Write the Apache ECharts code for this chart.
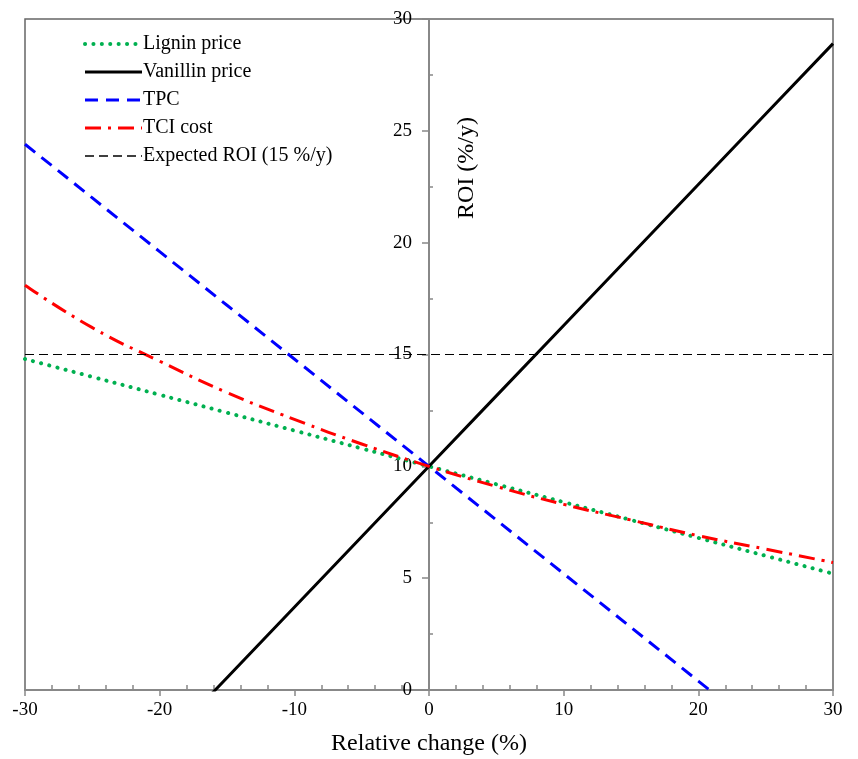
<!DOCTYPE html>
<html><head><meta charset="utf-8">
<script src="https://cdn.jsdelivr.net/npm/echarts@6/dist/echarts.min.js"></script>
<style>html,body{margin:0;padding:0;background:#fff}#c{width:858px;height:759px}</style>
</head><body><div id="c"></div>
<script>
const xChange = [-30, -25, -20, -15, -10, -5, 0, 5, 10, 15, 20, 25, 30];
const lignin   = [14.8, 14.0, 13.2, 12.4, 11.6, 10.8, 10, 9.2, 8.4, 7.6, 6.8, 6.0, 5.2];
const vanillin = [-8.9, -5.75, -2.6, 0.55, 3.7, 6.85, 10, 13.15, 16.3, 19.45, 22.6, 25.75, 28.9];
const tpc      = [24.4, 22.0, 19.6, 17.2, 14.8, 12.4, 10, 7.6, 5.2, 2.8, 0.4, -2.0, -4.4];
const tciCost  = [18.1, 16.2, 14.7, 13.3, 12.1, 11.0, 10, 9.1, 8.3, 7.6, 6.9, 6.3, 5.7];
const expectedROI = [15, 15];
const expectedX = [-30, 30];
const seriesNames = ['Lignin price', 'Vanillin price', 'TPC', 'TCI cost', 'Expected ROI (15 %/y)'];

const pair = (xs, ys) => xs.map((x, i) => [x, ys[i]]);
const font = 'Liberation Serif';
const legendWidths = [4, 3, 3, 3, 1.6];
const chart = echarts.init(document.getElementById('c'));
chart.setOption({
  animation: false,
  textStyle: { fontFamily: font },
  grid: { left: 25, right: 25, top: 19, bottom: 69, show: true, borderColor: '#666', borderWidth: 1.5,
          containLabel: false, outerBoundsMode: 'none' },
  legend: {
    left: 78, top: 29, orient: 'vertical', itemGap: 8, itemWidth: 57, itemHeight: 20,
    itemStyle: { opacity: 0 },
    textStyle: { fontFamily: font, fontSize: 20, color: '#000', padding: [0, 0, 0, -4] },
    data: seriesNames.map((n, i) => ({ name: n, lineStyle: { width: legendWidths[i] } }))
  },
  xAxis: {
    type: 'value', min: -30, max: 30, interval: 10,
    name: 'Relative change (%)', nameLocation: 'middle', nameGap: 42,
    nameTextStyle: { fontFamily: font, fontSize: 24, color: '#000' },
    axisLine: { onZero: false, lineStyle: { color: '#888', width: 2 } },
    axisTick: { show: true, length: 6, lineStyle: { color: '#888', width: 1.5 } },
    minorTick: { show: true, splitNumber: 5, length: -5, lineStyle: { color: '#888', width: 1.5 } },
    axisLabel: { fontFamily: font, fontSize: 19, color: '#000', margin: 11 },
    splitLine: { show: false }
  },
  yAxis: {
    type: 'value', min: 0, max: 30, interval: 5, position: 'left', offset: -404,
    axisLine: { onZero: false, lineStyle: { color: '#888', width: 2 } },
    axisTick: { show: true, length: 7, lineStyle: { color: '#888', width: 1.5 } },
    minorTick: { show: true, splitNumber: 2, length: -4, lineStyle: { color: '#888', width: 1.5 } },
    axisLabel: { fontFamily: font, fontSize: 19, color: '#000', margin: 17 },
    splitLine: { show: false }
  },
  graphic: [{
    type: 'text', x: 467, y: 168, rotation: Math.PI / 2,
    style: { text: 'ROI (%/y)', font: '24px "Liberation Serif"', fill: '#000', align: 'center', verticalAlign: 'middle' }
  }],
  series: [
    { name: seriesNames[0], type: 'line', data: pair(xChange, lignin), symbol: 'none', smooth: true,
      lineStyle: { color: '#00B050', width: 4, type: [0.1, 8.3], cap: 'round' }, itemStyle: { color: '#00B050' } },
    { name: seriesNames[1], type: 'line', data: pair(xChange, vanillin), symbol: 'none',
      lineStyle: { color: '#000', width: 3 }, itemStyle: { color: '#000' } },
    { name: seriesNames[2], type: 'line', data: pair(xChange, tpc), symbol: 'none',
      lineStyle: { color: '#0000FF', width: 3, type: [13, 8] }, itemStyle: { color: '#0000FF' } },
    { name: seriesNames[3], type: 'line', data: pair(xChange, tciCost), symbol: 'none', smooth: true,
      lineStyle: { color: '#FF0000', width: 3, type: [16, 7, 3, 7] }, itemStyle: { color: '#FF0000' } },
    { name: seriesNames[4], type: 'line', data: pair(expectedX, expectedROI), symbol: 'none',
      lineStyle: { color: '#000', width: 1.2, type: [9, 5] }, itemStyle: { color: '#000' } }
  ]
});
</script></body></html>
